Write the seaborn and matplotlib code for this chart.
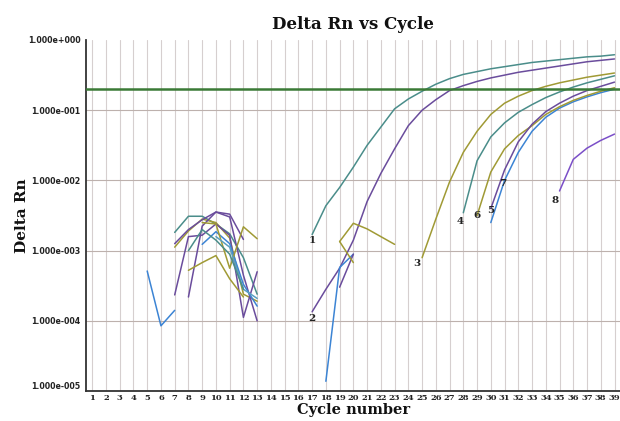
import numpy as np
import pandas as pd
import matplotlib
matplotlib.use("Agg")
import matplotlib.pyplot as plt
import seaborn as sns

# ---------------- data (log10 of Delta Rn) ----------------
cycles_c1 = list(range(17, 40))
c1_log10 = [-2.77, -2.36, -2.10, -1.81, -1.50, -1.24, -0.98, -0.84, -0.73, -0.63, -0.55, -0.49,
            -0.45, -0.41, -0.38, -0.35, -0.32, -0.30, -0.28, -0.26, -0.24, -0.23, -0.21]
cycles_c2 = list(range(17, 40))
c2_log10 = [-3.87, -3.55, -3.25, -2.85, -2.30, -1.90, -1.55, -1.22, -1.00, -0.85, -0.72, -0.65,
            -0.59, -0.54, -0.50, -0.46, -0.43, -0.40, -0.37, -0.34, -0.31, -0.29, -0.27]
cycles_c3 = list(range(25, 40))
c3_log10 = [-3.10, -2.55, -2.02, -1.60, -1.30, -1.06, -0.90, -0.80, -0.72, -0.66, -0.61, -0.57,
            -0.53, -0.50, -0.47]
cycles_c4 = list(range(28, 40))
c4_log10 = [-2.46, -1.72, -1.38, -1.18, -1.03, -0.92, -0.82, -0.74, -0.67, -0.61, -0.56, -0.51]
cycles_c5 = list(range(30, 40))
c5_log10 = [-2.60, -2.00, -1.60, -1.30, -1.10, -0.97, -0.88, -0.81, -0.75, -0.70]
cycles_c6 = list(range(29, 40))
c6_log10 = [-2.50, -1.88, -1.55, -1.36, -1.22, -1.06, -0.95, -0.86, -0.79, -0.73, -0.68]
cycles_c7 = list(range(30, 40))
c7_log10 = [-2.40, -1.85, -1.45, -1.20, -1.02, -0.90, -0.80, -0.72, -0.66, -0.60]
cycles_c8 = list(range(35, 40))
c8_log10 = [-2.15, -1.70, -1.54, -1.43, -1.34]

# short noisy traces after cycle 17
cycles_b1 = [18, 19, 20]
b1_log10 = [-4.86, -3.24, -3.05]
cycles_b2 = [19, 20]
b2_log10 = [-3.52, -3.05]
cycles_b3 = [19, 20, 21, 22, 23]
b3_log10 = [-2.87, -2.61, -2.69, -2.80, -2.91]
cycles_b4 = [19, 20]
b4_log10 = [-2.87, -3.17]

# noisy background traces (cycles 5-13)
cycles_n1 = [5, 6, 7]
n1_log10 = [-3.29, -4.07, -3.85]
cycles_n2 = [7, 8, 9, 10, 11, 12, 13]
n2_log10 = [-2.74, -2.51, -2.51, -2.62, -2.76, -3.10, -3.62]
cycles_n3 = [7, 8, 9, 10, 11, 12, 13]
n3_log10 = [-2.95, -2.72, -2.55, -2.60, -2.82, -3.62, -3.72]
cycles_n4 = [7, 8, 9, 10, 11, 12]
n4_log10 = [-2.90, -2.70, -2.56, -2.45, -2.48, -2.84]
cycles_n5 = [7, 8, 9, 10, 11, 12, 13]
n5_log10 = [-3.63, -2.80, -2.78, -2.62, -2.78, -3.95, -3.30]
cycles_n6 = [8, 9, 10, 11, 12, 13]
n6_log10 = [-3.66, -2.65, -2.45, -2.52, -3.35, -4.00]
cycles_n7 = [8, 9, 10, 11, 12]
n7_log10 = [-3.28, -3.17, -3.07, -3.40, -3.66]
cycles_n8 = [9, 10, 11, 12, 13]
n8_log10 = [-2.91, -2.73, -2.90, -3.48, -3.79]
cycles_n9 = [9, 10, 11, 12, 13]
n9_log10 = [-2.60, -2.62, -3.25, -2.66, -2.83]
cycles_n10 = [10, 11, 12, 13]
n10_log10 = [-2.80, -2.95, -3.55, -3.68]
cycles_n11 = [8, 9, 10, 11, 12]
n11_log10 = [-3.00, -2.70, -2.85, -3.05, -3.55]

threshold = 0.2
curve_labels = ["1", "2", "3", "4", "5", "6", "7", "8"]
x_ticks = list(range(1, 40))
y_tick_exponents = [0, -1, -2, -3, -4, -5]

# ---------------- styling ----------------
TEAL, PURPLE, OLIVE, BLUE, LTBLUE, VIOLET = "#4a8d8a", "#6a4c9c", "#a09a35", "#3c84d4", "#5aa0c0", "#7b4fc8"

series = [
    ("c1", cycles_c1, c1_log10, TEAL), ("c2", cycles_c2, c2_log10, PURPLE),
    ("c3", cycles_c3, c3_log10, OLIVE), ("c4", cycles_c4, c4_log10, TEAL),
    ("c5", cycles_c5, c5_log10, BLUE), ("c6", cycles_c6, c6_log10, OLIVE),
    ("c7", cycles_c7, c7_log10, PURPLE), ("c8", cycles_c8, c8_log10, VIOLET),
    ("b1", cycles_b1, b1_log10, BLUE), ("b2", cycles_b2, b2_log10, PURPLE),
    ("b3", cycles_b3, b3_log10, OLIVE), ("b4", cycles_b4, b4_log10, OLIVE),
    ("n1", cycles_n1, n1_log10, BLUE), ("n2", cycles_n2, n2_log10, TEAL),
    ("n3", cycles_n3, n3_log10, OLIVE), ("n4", cycles_n4, n4_log10, PURPLE),
    ("n5", cycles_n5, n5_log10, PURPLE), ("n6", cycles_n6, n6_log10, PURPLE),
    ("n7", cycles_n7, n7_log10, OLIVE), ("n8", cycles_n8, n8_log10, BLUE),
    ("n9", cycles_n9, n9_log10, OLIVE), ("n10", cycles_n10, n10_log10, LTBLUE),
    ("n11", cycles_n11, n11_log10, TEAL),
]

rows = []
for name, cyc, vals, _ in series:
    for c, v in zip(cyc, vals):
        rows.append({"well": name, "cycle": c, "delta_rn": 10.0 ** v})
df = pd.DataFrame(rows)
palette = {name: col for name, _, _, col in series}

sns.set_theme(style="white")
plt.rcParams["font.family"] = ["DejaVu Serif"]

fig = plt.figure(figsize=(6.2, 4.21), dpi=100)
ax = fig.add_axes([0.139, 0.071, 0.861, 0.834])

ax.set_yscale("log")
ax.set_xlim(0.56, 39.4)
ax.set_ylim(1e-5, 1.0)

# grid
for c in x_ticks:
    ax.axvline(c, color="#d6cfcf", lw=0.8, zorder=0)
for e in y_tick_exponents[1:-1]:
    ax.axhline(10.0 ** e, color="#bdb1ad", lw=0.8, zorder=0)

sns.lineplot(data=df, x="cycle", y="delta_rn", hue="well", palette=palette,
             estimator=None, sort=False, legend=False, lw=1.1, ax=ax, zorder=3)

ax.axhline(threshold, color="#3b7a36", lw=1.8, zorder=4)

# curve numbers
label_pos = [(17.0, -2.85), (17.0, -3.96), (24.6, -3.18), (27.8, -2.58),
             (30.0, -2.43), (29.0, -2.50), (30.9, -2.05), (34.7, -2.28)]
for lab, (lx, ly) in zip(curve_labels, label_pos):
    ax.text(lx, 10.0 ** ly, lab, fontsize=7.5, fontweight="bold", color="#222222",
            ha="center", va="center", zorder=5)

ax.set_xticks(x_ticks)
ax.set_xticklabels([str(t) for t in x_ticks], fontsize=6, fontweight="bold")
ax.set_yticks([10.0 ** e for e in y_tick_exponents])
ax.set_yticklabels(["1.000e" + format(e, "+04d") for e in y_tick_exponents],
                   fontsize=5.7, fontweight="bold", family="DejaVu Sans")
ax.yaxis.set_minor_locator(matplotlib.ticker.NullLocator())
ax.tick_params(axis="both", length=0, pad=4, colors="#222222")
ax.tick_params(axis="x", pad=2)
ylabels = ax.get_yticklabels()
ylabels[-1].set_va("bottom")

for s in ["top", "right"]:
    ax.spines[s].set_visible(False)
for s in ["left", "bottom"]:
    ax.spines[s].set_color("#333333")
    ax.spines[s].set_linewidth(1.3)

ax.set_title("Delta Rn vs Cycle", fontsize=12, fontweight="bold", pad=8, color="#111111")
ax.set_xlabel("Cycle number", fontsize=10.5, fontweight="bold", labelpad=1, color="#111111")
ax.set_ylabel("Delta Rn", fontsize=11, fontweight="bold", color="#111111")
ax.yaxis.set_label_coords(-0.108, 0.5)

fig.savefig("out.png", dpi=100, facecolor="white")
